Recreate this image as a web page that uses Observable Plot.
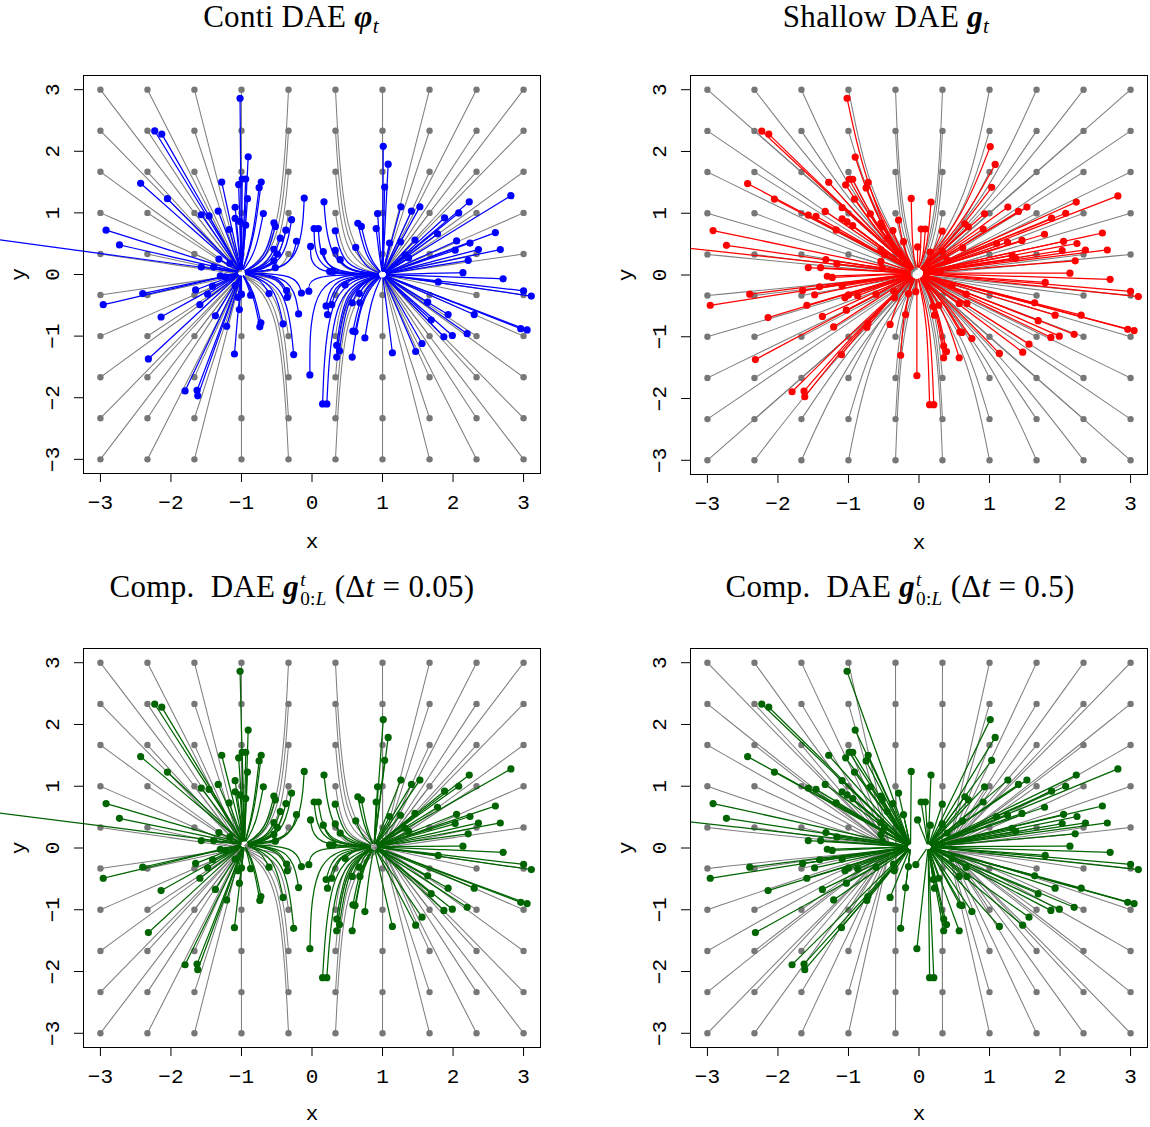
<!DOCTYPE html>
<html><head><meta charset="utf-8">
<script src="https://cdn.jsdelivr.net/npm/d3@7"></script>
<script src="https://cdn.jsdelivr.net/npm/@observablehq/plot@0.6"></script>
<style>
body{margin:0;background:#fff;}
#wrap{position:relative;width:1150px;height:1127px;overflow:hidden;background:#fff;}
.panel{position:absolute;}
.title{position:absolute;font-family:"Liberation Serif",serif;font-size:31px;letter-spacing:0.3px;white-space:nowrap;transform:translateX(-50%);line-height:1;color:#000;}
.title .m{font-weight:bold;font-style:italic;}
.title sub{font-size:0.68em;vertical-align:-0.28em;line-height:0;}
.stack{display:inline-block;vertical-align:-0.45em;font-size:0.62em;text-align:left;margin-left:1px;}
.stack span{display:block;line-height:1;}
</style></head><body><div id="wrap"></div>
<script>
// grid of starting points (gray)
const gridVals = [-3, -2.333, -1.667, -1, -0.333, 0.333, 1, 1.667, 2.333, 3];
const xTicks = [-3, -2, -1, 0, 1, 2, 3];
const yTicks = [-3, -2, -1, 0, 1, 2, 3];

// colored starting points (same in all four panels)
const ptsX = [-1.02,-2.23,-2.13,1.01,-0.905,1.08,-2.43,1.03,-1.28,-1.04,
-0.99,-0.94,-0.72,-0.75,-0.11,0.17,-2.05,-0.915,2.82,2.23,
1.26,1.53,1.41,-1.57,-1.46,-1.33,-1.09,-0.69,-1.09,-1.02,
-0.94,-0.54,-0.52,-0.29,0.93,2.08,1.88,0.65,0.70,0.91,
0.03,0.09,0.33,-0.37,-1.175,-2.92,2.60,1.78,-0.45,-0.22,
1.10,1.255,1.46,2.05,2.24,-2.73,-0.02,0.16,0.33,0.62,
-0.54,-0.49,-0.54,-0.52,2.03,2.36,2.67,1.32,1.37,2.215,
0.40,-1.32,-1.165,-1.57,-1.395,0.25,0.30,2.14,-1.30,-1.23,
2.71,1.79,0.47,3.0,3.11,-2.40,-2.96,-1.65,-1.48,-1.41,
-1.09,-1.0,-1.05,-0.87,-0.61,-0.36,-0.35,-0.15,-0.045,0.67,
0.57,0.68,1.64,-1.59,0.20,0.28,0.22,-0.19,-1.03,-1.37,
-2.14,1.93,2.30,1.69,-0.41,-0.725,-0.74,-1.21,0.58,0.61,
0.75,1.87,1.99,2.20,2.96,3.05,1.56,1.47,1.14,0.35,
0.39,0.35,0.57,-0.26,-1.10,-2.32,-0.03,-1.80,-1.63,-1.62,
0.15,0.21,-5.0];
const ptsY = [2.86,2.33,2.28,2.08,1.91,1.79,1.48,1.42,1.50,1.46,
1.55,1.55,1.50,1.41,1.24,1.18,1.23,1.23,1.28,1.18,
1.10,1.10,1.03,0.97,0.95,1.03,1.09,0.99,0.91,0.86,
0.80,0.84,0.78,0.89,0.99,1.00,0.92,0.83,0.78,0.745,
0.745,0.745,0.71,0.72,0.73,0.72,0.68,0.66,0.59,0.54,
0.51,0.53,0.56,0.545,0.51,0.48,0.455,0.37,0.39,0.44,
0.41,0.33,0.22,0.11,0.395,0.405,0.405,0.32,0.27,0.23,
0.24,0.25,0.18,0.12,0.12,0.05,0.05,0.03,-0.02,-0.04,
-0.07,-0.12,-0.17,-0.265,-0.35,-0.31,-0.49,-0.25,-0.32,-0.19,
-0.18,-0.32,-0.37,-0.335,-0.31,-0.26,-0.37,-0.30,-0.27,-0.31,
-0.46,-0.46,-0.45,-0.49,-0.51,-0.49,-0.65,-0.64,-0.57,-0.67,
-0.69,-0.65,-0.65,-0.74,-0.80,-0.785,-0.85,-0.84,-0.92,-0.93,
-1.03,-1.01,-0.99,-0.96,-0.88,-0.90,-1.12,-1.25,-1.27,-1.15,
-1.24,-1.34,-1.34,-1.30,-1.29,-1.37,-1.63,-1.89,-1.88,-1.97,
-2.10,-2.10,0.65];

// end points (attractors) of each panel's trajectories
const contiEndX = [-1.0, 1.0],  contiEndY = [0.03, 0.0];
const shallowEndX = [-0.03],     shallowEndY = [0.03];
const comp005EndX = [-0.96, 0.88], comp005EndY = [0.06, 0.02];
const comp05EndX = [-0.12, 0.13],  comp05EndY = [0.02, 0.02];
const trueEndX = [-1, 1], trueEndY = [0, 0];
const shallowGrayEndX = [0], shallowGrayEndY = [0];
// panel 4: gray trajectories end on y = 0, one end x per grid column
const comp05GrayColEndX = [-0.45, -0.45, -0.44, -0.42, -0.33, 0.33, 0.42, 0.44, 0.45, 0.45];

const titles = [
  'Conti DAE <span class="m">φ</span><sub><i>t</i></sub>',
  'Shallow DAE <span class="m">g</span><sub><i>t</i></sub>',
  'Comp.&nbsp; DAE <span class="m">g</span><span class="stack"><span><i>t</i></span><span>0:<i>L</i></span></span> (Δ<i>t</i> = 0.05)',
  'Comp.&nbsp; DAE <span class="m">g</span><span class="stack"><span><i>t</i></span><span>0:<i>L</i></span></span> (Δ<i>t</i> = 0.5)'
];

const panels = [
  {left:0, top:50, h:510, mb:87, xl:68, tx:291, tt:1, color:"#0000ff", mode:"two", ex:contiEndX, ey:contiEndY, gap:0.06, gmode:"two", gx:trueEndX, gy:trueEndY, clip:false},
  {left:607, top:50, h:510, mb:86, xl:68, tx:886, tt:1, color:"#ff0000", mode:"center", ex:shallowEndX, ey:shallowEndY, gap:0.1, gmode:"center", gx:shallowGrayEndX, gy:shallowGrayEndY, clip:true},
  {left:0, top:623, h:504, mb:80, xl:66, tx:292, tt:570, color:"#006400", mode:"two", ex:comp005EndX, ey:comp005EndY, gap:0.06, gmode:"two", gx:trueEndX, gy:trueEndY, clip:false},
  {left:607, top:623, h:504, mb:80, xl:66, tx:900, tt:570, color:"#006400", mode:"straight", ex:comp05EndX, ey:comp05EndY, gap:0.05, gmode:"straight", gcol:comp05GrayColEndX, clip:true}
];

function buildTraj(xs, ys, endX, endY, split, mode, gap) {
  const rows = [];
  xs.forEach((x0, i) => {
    const y0 = ys[i];
    const k = endX.length === 1 ? 0 : (x0 > split ? 1 : 0);
    const ax = endX[k], ay = endY[k];
    const mx = (x0 + ax) / 2, my = (y0 + ay) / 2;
    let qx = x0, qy = ay;
    let b = 0;
    if (mode === "two") {
      const inner = ax > 0 ? x0 < ax : x0 > ax;
      b = inner ? Math.min(1, Math.abs(x0 - ax)) : 0;
    } else if (mode === "center") {
      const dx = Math.abs(x0 - ax), dy = Math.abs(y0 - ay);
      b = Math.min(1, 0.75 * Math.max(0, dy - dx) / ((dx + dy) || 1));
      qy = ay + (y0 - ay) * 0.25;
    }
    const cx = mx + b * (qx - mx), cy = my + b * (qy - my);
    const vx = cx - ax, vy = cy - ay, L = Math.hypot(vx, vy) || 1;
    rows.push({id: i, x: x0, y: y0});
    rows.push({id: i, x: cx, y: cy});
    rows.push({id: i, x: ax + vx / L * gap, y: ay + vy / L * gap});
  });
  return rows;
}

const gx = [], gy = [], gcol = [];
gridVals.forEach((a, ci) => gridVals.forEach(b => { gx.push(a); gy.push(b); gcol.push(ci); }));
const gridPts = gx.map((x, i) => ({x, y: gy[i]}));
const colPts = ptsX.map((x, i) => ({x, y: ptsY[i]}));
const fmt = d => d < 0 ? "\u2212" + (-d) : String(d);
const mono = "Liberation Mono, DejaVu Sans Mono, monospace";

const wrap = document.getElementById("wrap");
panels.forEach((p, pi) => {
  let grayRows;
  if (p.gcol) {
    // straight gray segments to the panel's per-column end points on y = 0
    grayRows = [];
    gx.forEach((x0, i) => {
      const ex = p.gcol[gcol[i]];
      const ey = 0;
      grayRows.push({id: i, x: x0, y: gy[i]}, {id: i, x: (x0 + ex) / 2, y: (gy[i] + ey) / 2}, {id: i, x: ex, y: ey + Math.sign(gy[i]) * p.gap});
    });
  } else {
    grayRows = buildTraj(gx, gy, p.gx, p.gy, 0, p.gmode, p.gap);
  }
  const colRows = buildTraj(ptsX, ptsY, p.ex, p.ey, -0.08, p.mode, p.gap);
  const width = p.left === 0 ? 575 : 543;
  const svg = Plot.plot({
    width, height: p.h,
    marginLeft: 83, marginRight: width - 83 - 457, marginTop: 25, marginBottom: p.mb,
    x: {domain: [-3.24, 3.24]},
    y: {domain: [-3.23, 3.23]},
    style: {background: "transparent", color: "black"},
    marks: [
      Plot.line(grayRows, {x: "x", y: "y", z: "id", curve: "basis", stroke: "#7f7f7f", strokeWidth: 1.05, clip: p.clip}),
      Plot.dot(gridPts, {x: "x", y: "y", r: 3.2, fill: "#777777", clip: p.clip}),
      Plot.line(colRows, {x: "x", y: "y", z: "id", curve: "basis", stroke: p.color, strokeWidth: 1.25, clip: p.clip}),
      Plot.dot(colPts, {x: "x", y: "y", r: 3.6, fill: p.color, clip: p.clip}),
      Plot.frame({stroke: "black", strokeWidth: 1}),
      Plot.axisX({ticks: xTicks, tickSize: 9, tickFormat: () => "", label: null}),
      Plot.axisY({ticks: yTicks, tickSize: 9, tickFormat: () => "", label: null}),
      Plot.text(xTicks, {x: d => d, text: fmt, frameAnchor: "bottom", dy: 29, lineAnchor: "middle", textAnchor: "middle", fontSize: 21, fontFamily: mono}),
      Plot.text(yTicks, {y: d => d, text: fmt, frameAnchor: "left", dx: -31, rotate: -90, lineAnchor: "middle", textAnchor: "middle", fontSize: 21, fontFamily: mono}),
      Plot.text(["x"], {text: d => d, frameAnchor: "bottom", dy: p.xl, lineAnchor: "middle", textAnchor: "middle", fontSize: 21, fontFamily: mono}),
      Plot.text(["y"], {text: d => d, frameAnchor: "left", dx: -65, rotate: -90, lineAnchor: "middle", textAnchor: "middle", fontSize: 21, fontFamily: mono})
    ]
  });
  svg.classList.add("panel");
  svg.style.left = p.left + "px";
  svg.style.top = p.top + "px";
  wrap.appendChild(svg);
  const t = document.createElement("div");
  t.className = "title";
  t.innerHTML = titles[pi];
  t.style.left = p.tx + "px";
  t.style.top = p.tt + "px";
  wrap.appendChild(t);
});
</script>
</body></html>
